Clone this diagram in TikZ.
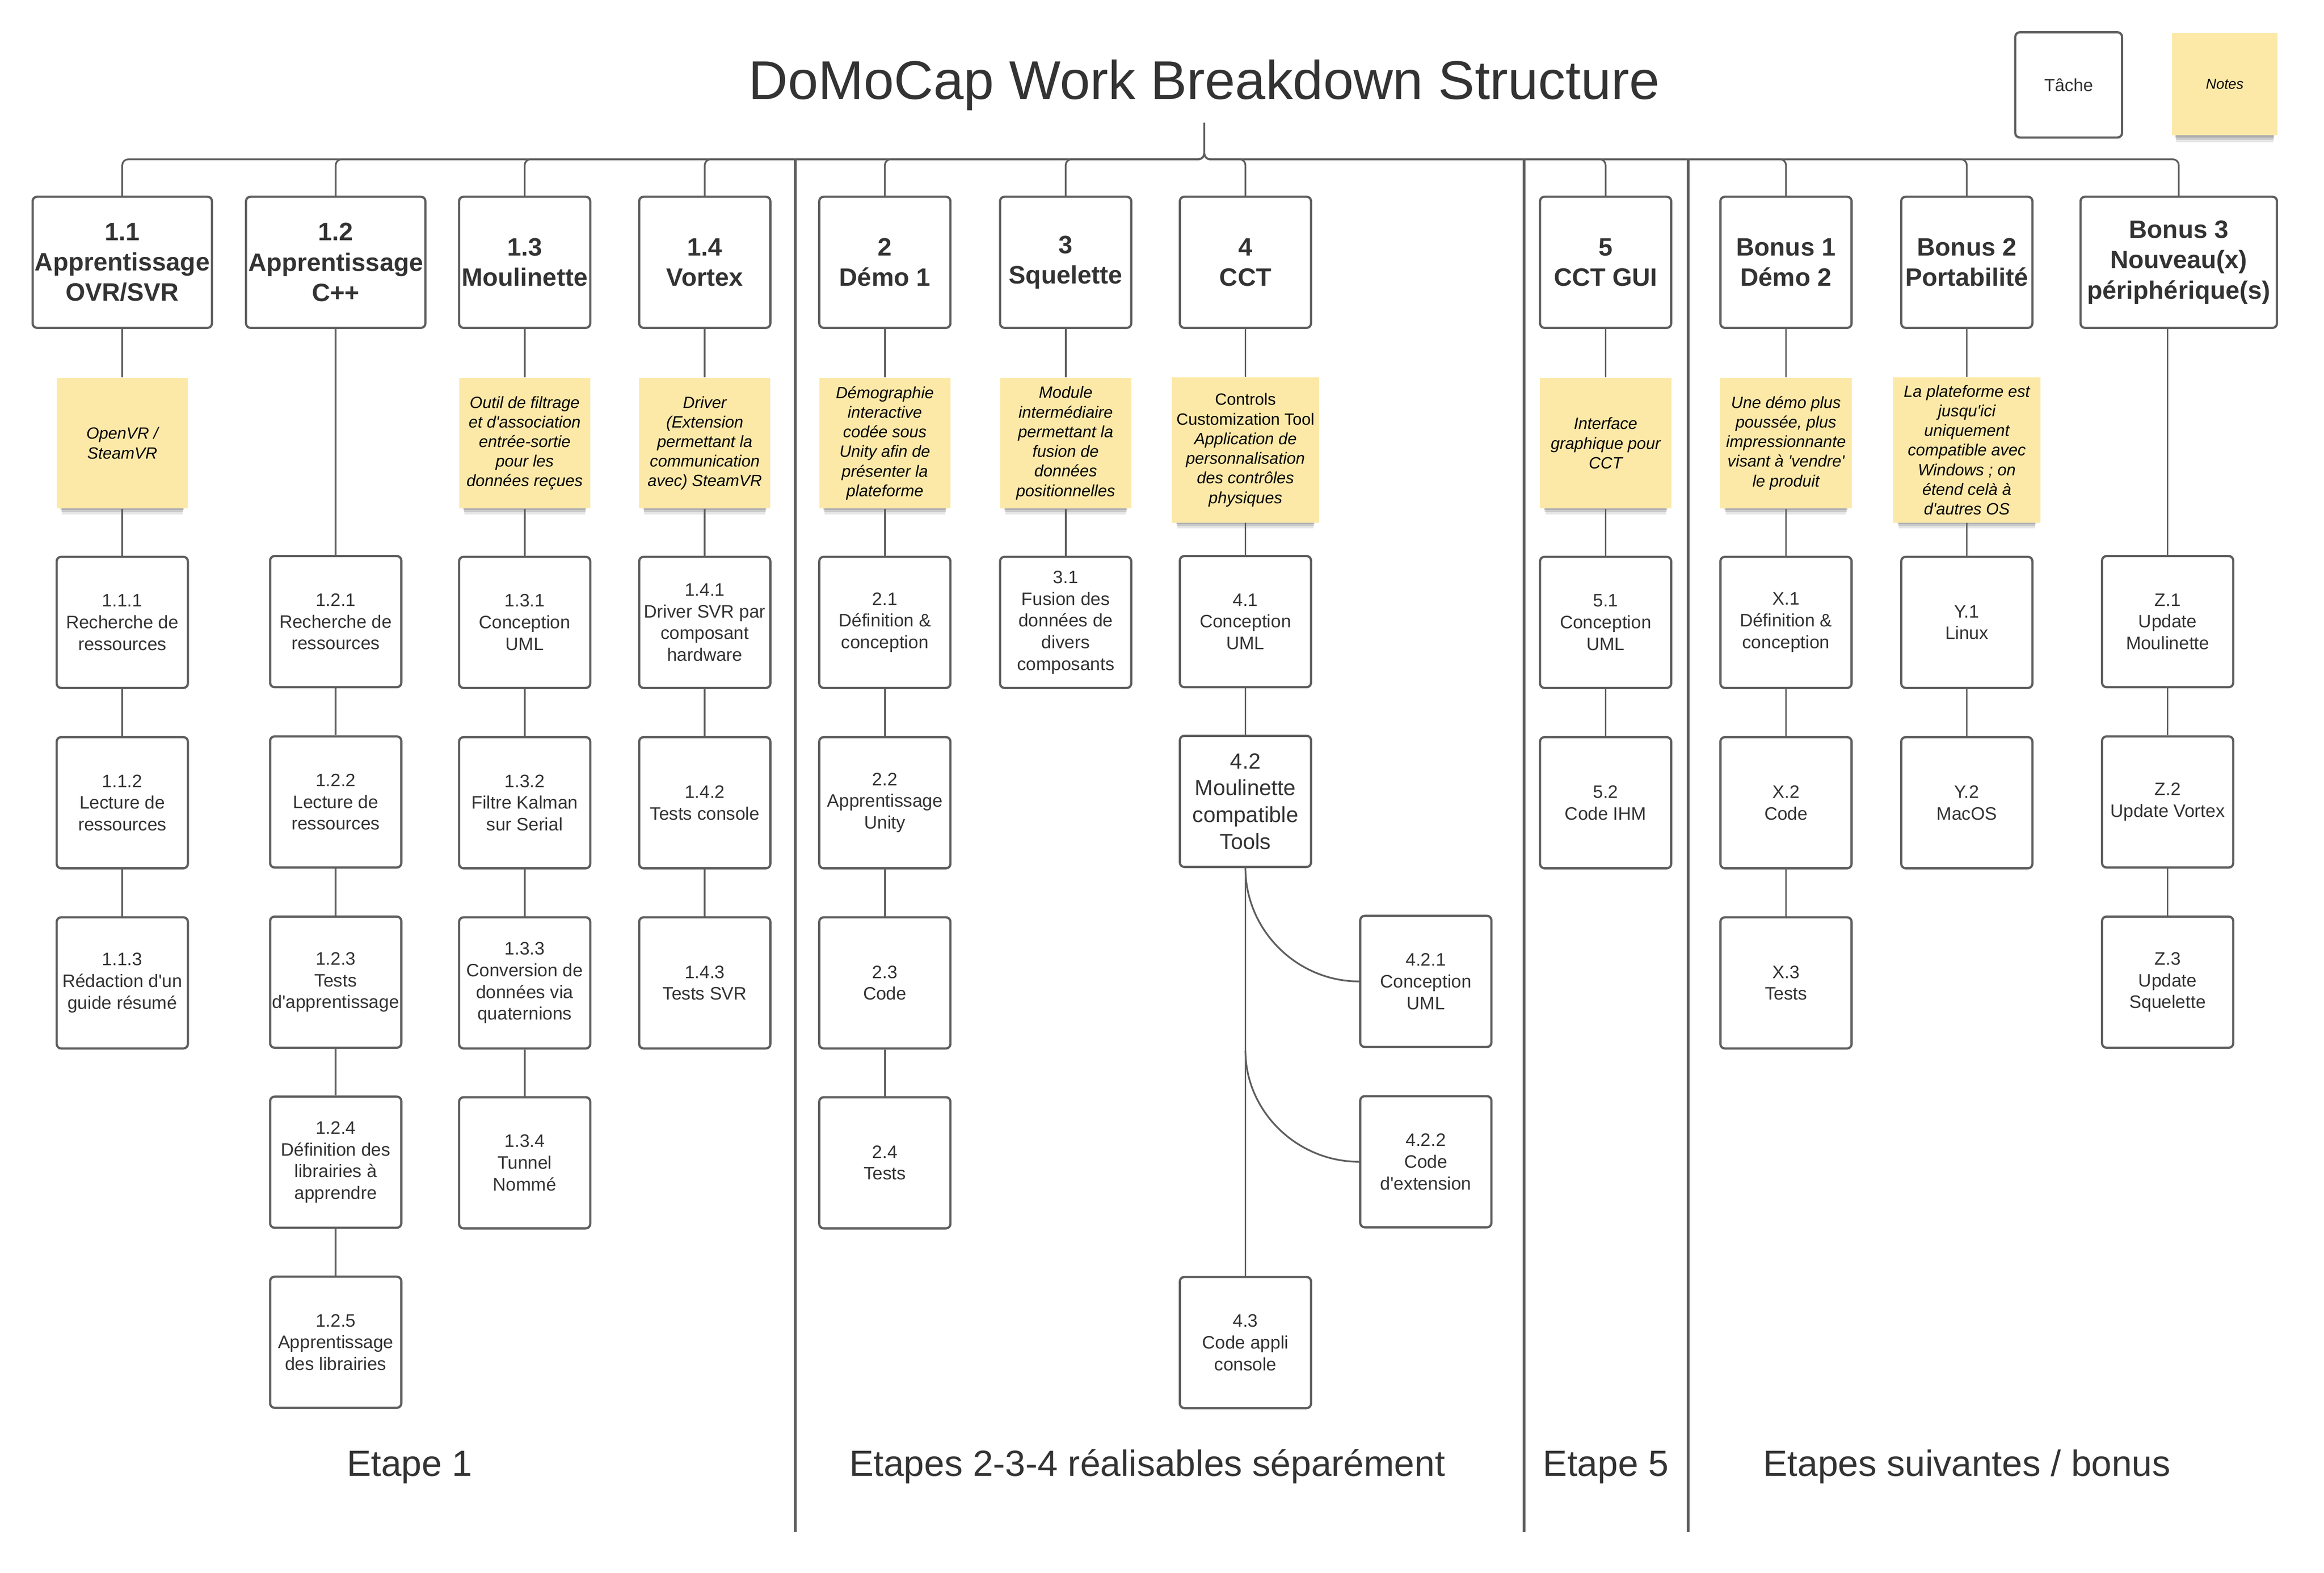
\documentclass[tikz,border=0pt]{standalone}
\usepackage{fontspec}
\setmainfont{Liberation Sans}[Ligatures=TeXOff]
\usepackage{tikz}
\usetikzlibrary{shadows}

\definecolor{linegray}{HTML}{5E5E5E}
\definecolor{txtgray}{HTML}{333333}
\definecolor{noteyellow}{HTML}{FCE9A8}

\tikzset{
	taskbox/.style={draw=linegray, line width=0.45mm, rounded corners=0.9mm, fill=white, text=txtgray, align=center,
		minimum width=26.55mm, minimum height=26.55mm, inner sep=0.4mm, font=\fontsize{10.4}{12.5}\selectfont},
	phasebox/.style={taskbox, font=\bfseries\fontsize{14.5}{17.5}\selectfont},
	notebox/.style={fill=noteyellow, text=black, align=center, minimum width=26.55mm, minimum height=26.4mm, inner sep=0.4mm,
		font=\itshape\fontsize{9.4}{11.3}\selectfont,
		drop shadow={shadow scale=0.92, shadow xshift=0mm, shadow yshift=-2.5mm, opacity=0.1, fill=black},
		drop shadow={shadow scale=0.93, shadow xshift=0mm, shadow yshift=-1.8mm, opacity=0.12, fill=black},
		drop shadow={shadow scale=0.94, shadow xshift=0mm, shadow yshift=-1.2mm, opacity=0.15, fill=black}},
	linkline/.style={draw=linegray, line width=0.35mm},
	sepline/.style={draw=linegray, line width=0.55mm},
	stagelabel/.style={anchor=base, text=txtgray, font=\fontsize{21}{25}\selectfont}
}

\begin{document}
\begin{tikzpicture}[x=0.3mm, y=-0.3mm]
	%%%%% START %%%%%
	\useasboundingbox (0,0) rectangle (1568,1061.4);
	
	\node[anchor=base, text=txtgray, font=\fontsize{31.4}{37}\selectfont] (title) at (812.5,67) {DoMoCap Work Breakdown Structure};
	\coordinate (root) at (812.5,83);
	\coordinate (bar) at (812.5,107.5);
	
	% legende
	\node[taskbox, minimum width=21.6mm, minimum height=21.3mm, font=\fontsize{10.1}{12}\selectfont] (legtask) at (1395.7,57.3) {Tâche};
	\node[notebox, minimum width=21.4mm, minimum height=20.7mm, font=\itshape\fontsize{8.3}{10}\selectfont] (legnote) at (1501,56.7) {Notes};
	
	% separateurs des etapes
	\draw[sepline] (536.5,107.5) -- (536.5,1034);
	\draw[sepline] (1028.4,107.5) -- (1028.4,1034);
	\draw[sepline] (1139,107.5) -- (1139,1034);
	
	%%%%% NIVEAU 1 %%%%%
	\node[phasebox, minimum width=36.3mm] (t11) at (82.5,177) {1.1\\Apprentissage\\OVR/SVR};
	\node[phasebox, minimum width=36.3mm] (t12) at (226.5,177) {1.2\\Apprentissage\\C++};
	\node[phasebox] (t13) at (354,177) {1.3\\Moulinette};
	\node[phasebox] (t14) at (475.5,177) {1.4\\Vortex};
	\node[phasebox] (t2) at (597,177) {2\\Démo 1};
	\node[phasebox] (t3) at (719,177) {3\\Squelette};
	\node[phasebox] (t4) at (840.3,177) {4\\CCT};
	\node[phasebox] (t5) at (1083.3,177) {5\\CCT GUI};
	\node[phasebox] (tb1) at (1205,177) {Bonus 1\\Démo 2};
	\node[phasebox] (tb2) at (1327,177) {Bonus 2\\Portabilité};
	\node[phasebox, minimum width=39.75mm] (tb3) at (1470,177) {Bonus 3\\Nouveau(x)\\périphérique(s)};
	
	\draw[linkline, rounded corners=1.2mm] (root) |- (bar -| t11) -- (t11.north);
	\draw[linkline, rounded corners=1.2mm] (root) |- (bar -| t12) -- (t12.north);
	\draw[linkline, rounded corners=1.2mm] (root) |- (bar -| t13) -- (t13.north);
	\draw[linkline, rounded corners=1.2mm] (root) |- (bar -| t14) -- (t14.north);
	\draw[linkline, rounded corners=1.2mm] (root) |- (bar -| t2) -- (t2.north);
	\draw[linkline, rounded corners=1.2mm] (root) |- (bar -| t3) -- (t3.north);
	\draw[linkline, rounded corners=1.2mm] (root) |- (bar -| t4) -- (t4.north);
	\draw[linkline, rounded corners=1.2mm] (root) |- (bar -| t5) -- (t5.north);
	\draw[linkline, rounded corners=1.2mm] (root) |- (bar -| tb1) -- (tb1.north);
	\draw[linkline, rounded corners=1.2mm] (root) |- (bar -| tb2) -- (tb2.north);
	\draw[linkline, rounded corners=1.2mm] (root) |- (bar -| tb3) -- (tb3.north);
	
	%%%%% NOTES %%%%%
	\node[notebox] (n11) at (82.5,299) {OpenVR /\\SteamVR};
	\node[notebox] (n13) at (354,299) {Outil de filtrage\\et d'association\\entrée-sortie\\pour les\\données reçues};
	\node[notebox] (n14) at (475.5,299) {Driver\\(Extension\\permettant la\\communication\\avec) SteamVR};
	\node[notebox] (n2) at (597,299) {Démographie\\interactive\\codée sous\\Unity afin de\\présenter la\\plateforme};
	\node[notebox] (n3) at (719,299) {Module\\intermédiaire\\permettant la\\fusion de\\données\\positionnelles};
	\node[notebox, minimum width=29.9mm, minimum height=29.4mm] (n4) at (840.3,303.7) {\upshape Controls\\\upshape Customization Tool\\Application de\\personnalisation\\des contrôles\\physiques};
	\node[notebox] (n5) at (1083.3,299) {Interface\\graphique pour\\CCT};
	\node[notebox] (nb1) at (1205,299) {Une démo plus\\poussée, plus\\impressionnante\\visant à 'vendre'\\le produit};
	\node[notebox, minimum width=29.9mm, minimum height=29.4mm] (nb2) at (1327,303.7) {La plateforme est\\jusqu'ici\\uniquement\\compatible avec\\Windows ; on\\étend celà à\\d'autres OS};
	
	%%%%% TACHES %%%%%
	\node[taskbox] (c111) at (82.5,420) {1.1.1\\Recherche de\\ressources};
	\node[taskbox] (c112) at (82.5,541.7) {1.1.2\\Lecture de\\ressources};
	\node[taskbox] (c113) at (82.5,663.3) {1.1.3\\Rédaction d'un\\guide résumé};
	
	\node[taskbox] (c121) at (226.5,419.5) {1.2.1\\Recherche de\\ressources};
	\node[taskbox] (c122) at (226.5,541.2) {1.2.2\\Lecture de\\ressources};
	\node[taskbox] (c123) at (226.5,662.8) {1.2.3\\Tests\\d'apprentissage};
	\node[taskbox] (c124) at (226.5,784.3) {1.2.4\\Définition des\\librairies à\\apprendre};
	\node[taskbox] (c125) at (226.5,905.8) {1.2.5\\Apprentissage\\des librairies};
	
	\node[taskbox] (c131) at (354,420) {1.3.1\\Conception\\UML};
	\node[taskbox] (c132) at (354,541.7) {1.3.2\\Filtre Kalman\\sur Serial};
	\node[taskbox] (c133) at (354,663.3) {1.3.3\\Conversion de\\données via\\quaternions};
	\node[taskbox] (c134) at (354,784.7) {1.3.4\\Tunnel\\Nommé};
	
	\node[taskbox] (c141) at (475.5,420) {1.4.1\\Driver SVR par\\composant\\hardware};
	\node[taskbox] (c142) at (475.5,541.7) {1.4.2\\Tests console};
	\node[taskbox] (c143) at (475.5,663.3) {1.4.3\\Tests SVR};
	
	\node[taskbox] (c21) at (597,420) {2.1\\Définition \&\\conception};
	\node[taskbox] (c22) at (597,541.7) {2.2\\Apprentissage\\Unity};
	\node[taskbox] (c23) at (597,663.3) {2.3\\Code};
	\node[taskbox] (c24) at (597,784.7) {2.4\\Tests};
	
	\node[taskbox] (c31) at (719,420) {3.1\\Fusion des\\données de\\divers\\composants};
	
	\node[taskbox] (c41) at (840.3,419.5) {4.1\\Conception\\UML};
	\node[taskbox, font=\fontsize{12.6}{15.4}\selectfont] (c42) at (840.3,540.8) {4.2\\Moulinette\\compatible\\Tools};
	\node[taskbox] (c421) at (962,662.3) {4.2.1\\Conception\\UML};
	\node[taskbox] (c422) at (962,784) {4.2.2\\Code\\d'extension};
	\node[taskbox] (c43) at (840.3,906) {4.3\\Code appli\\console};
	\coordinate (b422) at (840.3,709);
	
	\node[taskbox] (c51) at (1083.3,420) {5.1\\Conception\\UML};
	\node[taskbox] (c52) at (1083.3,541.7) {5.2\\Code IHM};
	
	\node[taskbox] (cx1) at (1205,420) {X.1\\Définition \&\\conception};
	\node[taskbox] (cx2) at (1205,541.7) {X.2\\Code};
	\node[taskbox] (cx3) at (1205,663.3) {X.3\\Tests};
	
	\node[taskbox] (cy1) at (1327,420) {Y.1\\Linux};
	\node[taskbox] (cy2) at (1327,541.7) {Y.2\\MacOS};
	
	\node[taskbox] (cz1) at (1462.5,419.5) {Z.1\\Update\\Moulinette};
	\node[taskbox] (cz2) at (1462.5,541.2) {Z.2\\Update Vortex};
	\node[taskbox] (cz3) at (1462.5,662.8) {Z.3\\Update\\Squelette};
	
	%%%%% LIENS %%%%%
	\draw[linkline] (t11) -- (n11) -- (c111) -- (c112) -- (c113);
	\draw[linkline] (t12) -- (c121) -- (c122) -- (c123) -- (c124) -- (c125);
	\draw[linkline] (t13) -- (n13) -- (c131) -- (c132) -- (c133) -- (c134);
	\draw[linkline] (t14) -- (n14) -- (c141) -- (c142) -- (c143);
	\draw[linkline] (t2) -- (n2) -- (c21) -- (c22) -- (c23) -- (c24);
	\draw[linkline] (t3) -- (n3) -- (c31);
	\draw[linkline] (t4) -- (n4) -- (c41) -- (c42) -- (c43);
	\draw[linkline] (c42.south) .. controls +(0,42) and +(-42,0) .. (c421.west);
	\draw[linkline] (b422) .. controls +(0,41) and +(-42,0) .. (c422.west);
	\draw[linkline] (t5) -- (n5) -- (c51) -- (c52);
	\draw[linkline] (tb1) -- (nb1) -- (cx1) -- (cx2) -- (cx3);
	\draw[linkline] (tb2) -- (nb2) -- (cy1) -- (cy2);
	\draw[linkline] (tb3.south -| cz1) -- (cz1) -- (cz2) -- (cz3);
	
	%%%%% ETAPES %%%%%
	\node[stagelabel] (lab1) at (276.4,996) {Etape 1};
	\node[stagelabel] (lab234) at (774,996) {Etapes 2-3-4 réalisables séparément};
	\node[stagelabel] (lab5) at (1083.5,996) {Etape 5};
	\node[stagelabel] (labbonus) at (1327,996) {Etapes suivantes / bonus};
	
	%%%%% END %%%%%
\end{tikzpicture}
\end{document}
